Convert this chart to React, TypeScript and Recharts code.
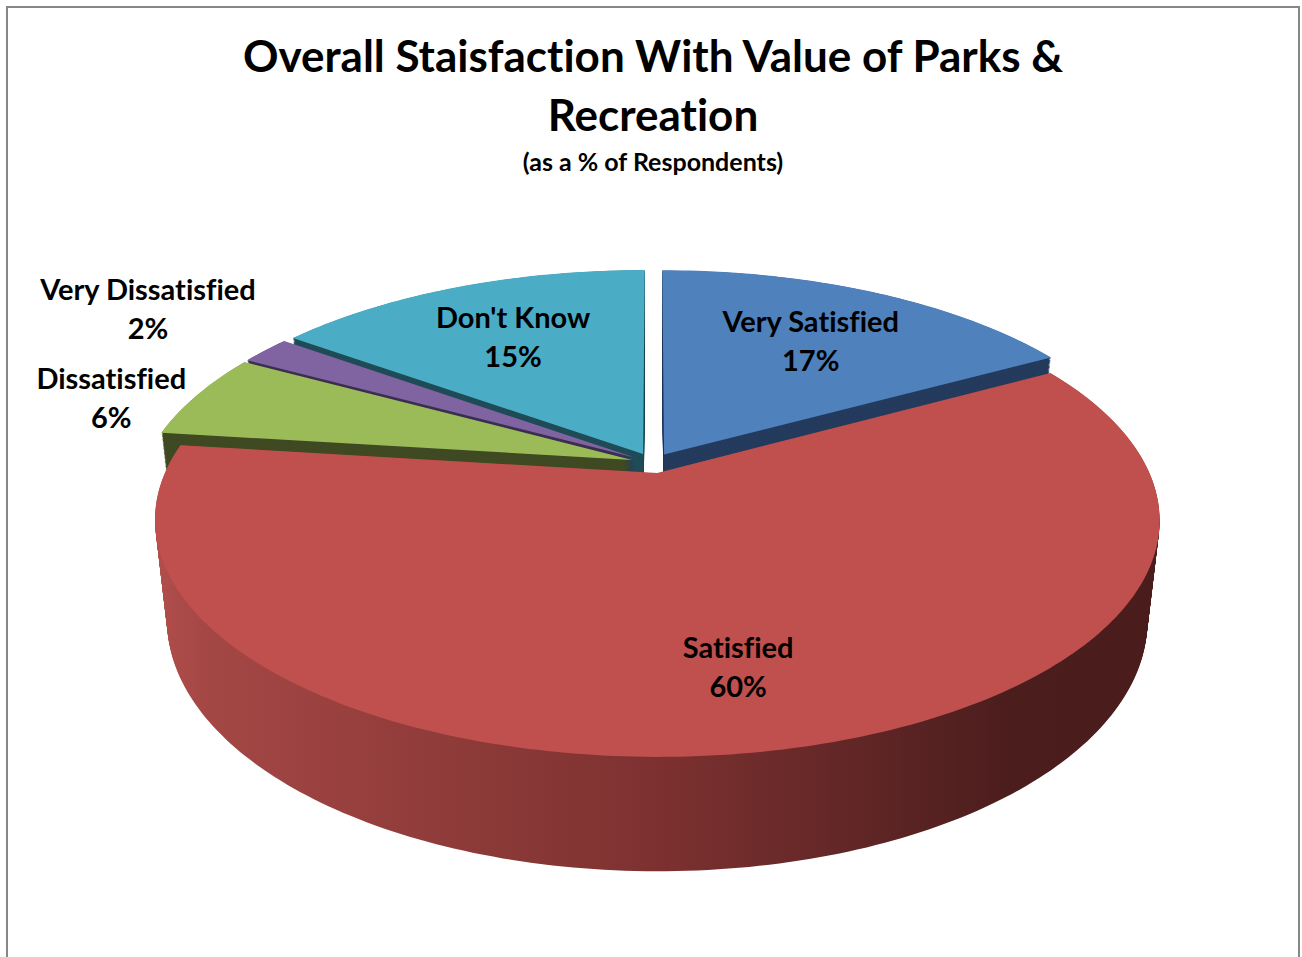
import React from 'react';
import { PieChart, Pie } from 'recharts';

const categories = ['Very Satisfied', 'Satisfied', 'Dissatisfied', 'Very Dissatisfied', "Don't Know"];
const percentages = [17, 60, 6, 2, 15];
const topColors = ['#4f81bd', '#c0504d', '#9bbb59', '#8064a2', '#4bacc6'];
const sideColors = ['#243b5d', 'url(#satisfiedSide)', '#3f4a23', '#3b2e50', '#1f4c57'];

const data = categories.map((name, i) => ({ name, value: percentages[i] }));

const CX = 653;
const CY = 463;
const R = 488;
const SIN_T = 0.458; // view elevation
const COS_T = Math.sqrt(1 - SIN_T * SIN_T);
const PERSP = 0.197; // perspective strength
const DEPTH = 113;
const EXPLODE = 22;
const RAD = Math.PI / 180;
const FONT = 'Lato, "Open Sans", sans-serif';
const LABEL_SIZE = 29;
const LINE_GAP = 39;

// depth bands, back to front, so the extruded sides overlap correctly
const bands: [number, number][] = [];
for (let k = 0; k < 10; k++) {
  const hi = 1.01 - k * 0.2;
  bands.push([k === 9 ? -1.01 : hi - 0.2, hi]);
}

// 3D point on the pie plane -> screen
const project = (cx: number, cy: number, r: number, X: number, Z: number, Y: number) => {
  const D = (r * COS_T) / PERSP;
  const s = D / (D + Z * COS_T - Y * SIN_T);
  return [cx + X * s, cy - (Z * SIN_T + Y * COS_T) * s];
};

const slicePath = (cx: number, cy: number, r: number, start: number, end: number, mid: number, Y: number) => {
  const ox = EXPLODE * Math.cos(mid * RAD);
  const oz = EXPLODE * Math.sin(mid * RAD);
  const pts: number[][] = [project(cx, cy, r, ox, oz, Y)];
  const n = Math.max(2, Math.ceil(Math.abs(start - end)));
  for (let i = 0; i <= n; i++) {
    const a = (start + ((end - start) * i) / n) * RAD;
    pts.push(project(cx, cy, r, ox + r * Math.cos(a), oz + r * Math.sin(a), Y));
  }
  return 'M' + pts.map((p) => `${p[0].toFixed(1)},${p[1].toFixed(1)}`).join('L') + 'Z';
};

const bodyLabel = (lo: number, hi: number) => (props: any) => {
  const { cx, cy, outerRadius, startAngle, endAngle, midAngle, index } = props;
  const s = Math.sin(midAngle * RAD);
  if (!(s > lo && s <= hi)) return <g />;
  const copies = [];
  for (let t = DEPTH; t >= 0; t -= 1.5) {
    copies.push(
      <path key={t} d={slicePath(cx, cy, outerRadius, startAngle, endAngle, midAngle, -t)} fill={sideColors[index]} />
    );
  }
  return <g>{copies}</g>;
};

const topLabel = (props: any) => {
  const { cx, cy, outerRadius, startAngle, endAngle, midAngle, index } = props;
  return <path d={slicePath(cx, cy, outerRadius, startAngle, endAngle, midAngle, 0)} fill={topColors[index]} />;
};

const textLabel = (props: any) => {
  const { cx, cy, outerRadius, midAngle, percent, name } = props;
  const c = Math.cos(midAngle * RAD);
  const s = Math.sin(midAngle * RAD);
  const [ax, ay] = project(cx, cy, outerRadius, EXPLODE * c, EXPLODE * s, 0);
  const [rx, ry] = project(cx, cy, outerRadius, (EXPLODE + outerRadius) * c, (EXPLODE + outerRadius) * s, 0);
  let x: number;
  let y: number;
  if (percent >= 0.1) {
    // inside, part way from the apex to the rim
    x = ax + 0.7 * (rx - ax);
    y = ay + 0.7 * (ry - ay);
  } else {
    // outside, box placed beyond the rim point
    const w = String(name).length * 0.435 * LABEL_SIZE;
    const h = 2 * LINE_GAP;
    x = c < 0 ? rx - 10 - w / 2 : rx + 10 + w / 2;
    y = Math.abs(s) > 0.45 ? (s > 0 ? ry - 2 - h / 2 : ry + 2 + h / 2) : ry + 3;
  }
  return (
    <text
      textAnchor="middle"
      fontFamily={FONT}
      fontWeight={700}
      fontSize={LABEL_SIZE}
      fill="#000"
      style={{ fontVariantLigatures: 'none' }}
    >
      <tspan x={x} y={y - LINE_GAP / 2} dy="0.35em">{name}</tspan>
      <tspan x={x} y={y + LINE_GAP / 2} dy="0.35em">{`${Math.round(percent * 100)}%`}</tspan>
    </text>
  );
};

const pieProps = {
  data,
  dataKey: 'value',
  nameKey: 'name',
  cx: CX,
  cy: CY,
  innerRadius: 0,
  outerRadius: R,
  startAngle: 90,
  endAngle: -270,
  fill: 'transparent',
  stroke: 'none',
  labelLine: false,
  isAnimationActive: false,
};

const titleStyle: React.CSSProperties = {
  position: 'absolute',
  left: 4,
  width: 1298,
  textAlign: 'center',
  fontFamily: FONT,
  fontWeight: 700,
  color: '#000',
  fontVariantLigatures: 'none',
};

export default function App() {
  return (
    <div style={{ position: 'absolute', left: 0, top: 0, width: 1302, height: 957, background: '#fff', overflow: 'hidden' }}>
      <div style={{ position: 'absolute', left: 6, top: 6, width: 1290, height: 1000, border: '2px solid #878787' }} />
      <div style={{ position: 'absolute', left: 0, top: 0 }}>
        <PieChart width={1302} height={957} margin={{ top: 0, right: 0, bottom: 0, left: 0 }}>
          <defs>
            <linearGradient id="satisfiedSide" x1="157" y1="0" x2="1160" y2="0" gradientUnits="userSpaceOnUse">
              <stop offset="0" stopColor="#b04e4b" />
              <stop offset="0.05" stopColor="#a44745" />
              <stop offset="0.3" stopColor="#8e3b39" />
              <stop offset="0.5" stopColor="#7c3130" />
              <stop offset="0.7" stopColor="#612626" />
              <stop offset="0.85" stopColor="#4c1d1d" />
              <stop offset="1" stopColor="#4b1c1c" />
            </linearGradient>
          </defs>
          {bands.map(([lo, hi], k) => (
            <Pie key={`body-${k}`} {...pieProps} label={bodyLabel(lo, hi)} />
          ))}
          <Pie key="top" {...pieProps} label={topLabel} />
          <Pie key="text" {...pieProps} label={textLabel} />
        </PieChart>
      </div>
      <div style={{ ...titleStyle, top: 26, fontSize: 44, lineHeight: '59px' }}>
        Overall Staisfaction With Value of Parks &amp;
        <br />
        Recreation
      </div>
      <div style={{ ...titleStyle, top: 147, fontSize: 25, lineHeight: '28px' }}>(as a % of Respondents)</div>
    </div>
  );
}
